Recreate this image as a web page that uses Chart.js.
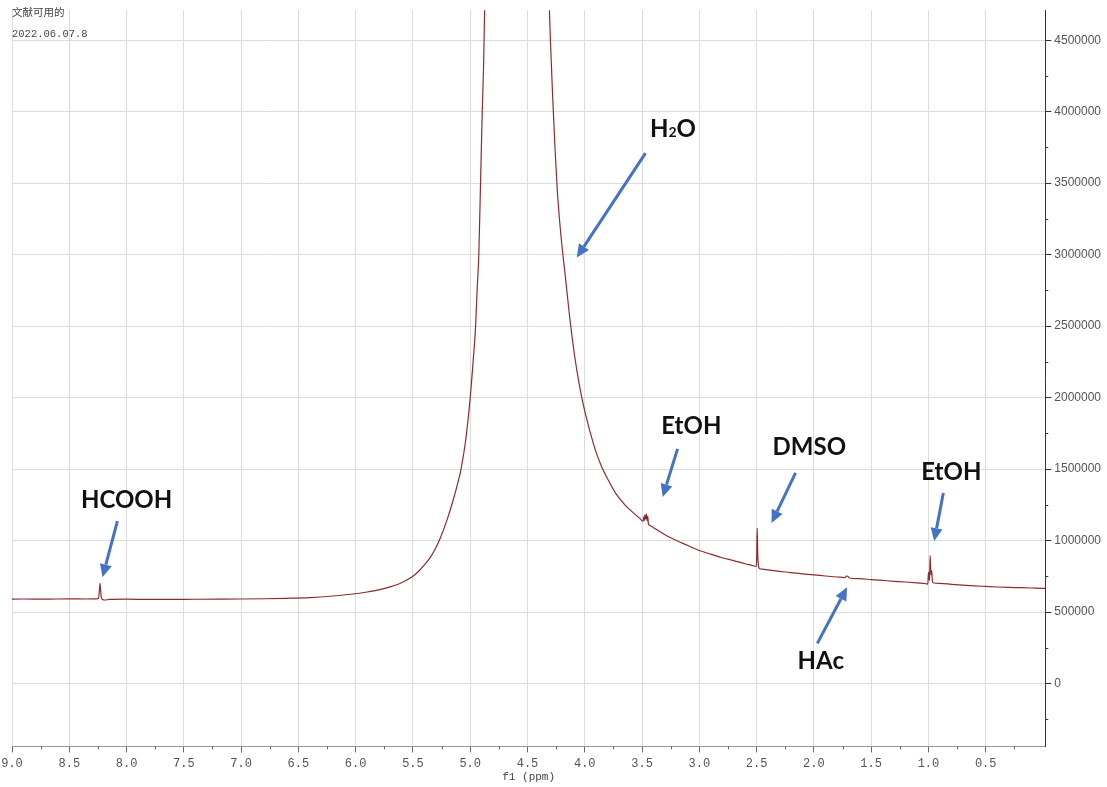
<!DOCTYPE html>
<html>
<head>
<meta charset="utf-8">
<script src="https://cdn.jsdelivr.net/npm/chart.js@4/dist/chart.umd.min.js"></script>
<style>
html, body { margin: 0; padding: 0; background: #fff; overflow: hidden; }
#wrap { position: absolute; left: 0; top: 0; width: 1107px; height: 787px; }
</style>
</head>
<body>
<div id="wrap"><canvas id="nmrChart" width="1107" height="787"></canvas></div>
<script>
// 1H NMR spectrum, chemical shift (ppm) vs intensity
const shiftPpm = [
    9.05, 8.9, 8.7, 8.5, 8.35, 8.27, 8.245, 8.238, 8.232, 8.226, 8.22, 8.21, 8.19, 8.15,
    8.0, 7.8, 7.5, 7.2, 7.0, 6.8, 6.6, 6.4, 6.2, 6.0, 5.9, 5.8, 5.7, 5.6, 5.5, 5.45,
    5.4, 5.35, 5.3, 5.27, 5.2, 5.15, 5.1, 5.08, 5.04, 5.0, 4.975, 4.953, 4.94, 4.925, 4.91,
    4.895, 4.884, 4.87, 4.8, 4.7, 4.6, 4.5, 4.4, 4.34, 4.32, 4.3, 4.28, 4.26, 4.24, 4.21,
    4.17, 4.13, 4.09, 4.05, 4.01, 3.96, 3.91, 3.86, 3.8, 3.73, 3.65, 3.57, 3.52, 3.49, 3.485, 3.48, 3.475,
    3.468, 3.462, 3.456, 3.45, 3.445, 3.44, 3.43, 3.4, 3.3, 3.2, 3.1, 3.0, 2.9, 2.8,
    2.7, 2.6, 2.52, 2.505, 2.5, 2.495, 2.49, 2.485, 2.475, 2.45, 2.4, 2.3, 2.2, 2.1,
    2.0, 1.9, 1.8, 1.73, 1.715, 1.705, 1.69, 1.6, 1.5, 1.4, 1.3, 1.2, 1.1, 1.02,
    1.005, 1.0, 0.995, 0.99, 0.985, 0.978, 0.972, 0.966, 0.96, 0.9, 0.8, 0.7, 0.6, 0.5,
    0.4, 0.3, 0.2, 0.1, 0.0, -0.03
];
const intensity = [
    590000, 591000, 590000, 592000, 591000, 592000, 596000, 640000, 700000, 650000, 600000, 588000, 584000, 588000,
    590000, 588000, 589000, 590000, 591000, 593000, 596000, 601000, 612000, 628000, 640000, 655000, 676000, 705000, 750000, 785000,
    830000, 880000, 950000, 1000000, 1150000, 1280000, 1430000, 1500000, 1700000, 2000000, 2250000, 2500000, 2750000, 3000000, 3500000,
    4000000, 4300000, 4900000, 7500000, 12000000, 16000000, 12000000, 7000000, 5600000, 5000000, 4500000, 4100000, 3750000, 3450000, 3150000,
    2850000, 2550000, 2300000, 2100000, 1940000, 1780000, 1640000, 1530000, 1430000, 1330000, 1250000, 1190000, 1155000, 1135000, 1165000, 1140000, 1180000,
    1150000, 1185000, 1140000, 1170000, 1120000, 1110000, 1105000, 1090000, 1040000, 1000000, 965000, 930000, 905000, 880000,
    860000, 838000, 822000, 818000, 860000, 1087000, 900000, 830000, 805000, 800000, 795000, 785000, 775000, 767000,
    760000, 752000, 745000, 741000, 752000, 750000, 738000, 733000, 727000, 721000, 715000, 710000, 704000, 698000,
    695000, 780000, 740000, 720000, 895000, 760000, 790000, 720000, 705000, 700000, 694000, 688000, 683000, 679000,
    675000, 672000, 670000, 668000, 666000, 665000
];

// axis ranges and tick values
const xRange = [-0.02, 9.0];
const yRange = [-440000, 4710000];
const xTickValues = [0.5, 1.0, 1.5, 2.0, 2.5, 3.0, 3.5, 4.0, 4.5, 5.0, 5.5, 6.0, 6.5, 7.0, 7.5, 8.0, 8.5, 9.0];
const yTickValues = [0, 500000, 1000000, 1500000, 2000000, 2500000, 3000000, 3500000, 4000000, 4500000];
const xMinorTicks = [0.25, 0.75, 1.25, 1.75, 2.25, 2.75, 3.25, 3.75, 4.25, 4.75, 5.25, 5.75, 6.25, 6.75, 7.25, 7.75, 8.25, 8.75];
const yMinorTicks = [-250000, 250000, 750000, 1250000, 1750000, 2250000, 2750000, 3250000, 3750000, 4250000];

// peak labels with arrows, in data coordinates
const labelText = ["HCOOH", "H2O", "EtOH", "DMSO", "EtOH", "HAc"];
const labelPpm = [8.0, 3.23, 3.07, 2.04, 0.8, 1.94];
const labelValue = [1280000, 3878000, 1802000, 1655000, 1480000, 154000];
const arrowFromPpm = [8.08, 3.47, 3.19, 2.16, 0.87, 1.97];
const arrowFromValue = [1136000, 3710000, 1641000, 1473000, 1332000, 281000];
const arrowToPpm = [8.21, 4.07, 3.32, 2.37, 0.95, 1.71];
const arrowToValue = [743000, 2980000, 1304000, 1122000, 996000, 673000];

const headerLines = ["文献可用的", "2022.06.07.8"];

const spectrum = shiftPpm.map((p, i) => ({ x: p, y: intensity[i] }));

function drawArrow(ctx, x1, y1, x2, y2) {
    const ang = Math.atan2(y2 - y1, x2 - x1);
    const headLen = 13;
    const headW = 6;
    const bx = x2 - headLen * Math.cos(ang);
    const by = y2 - headLen * Math.sin(ang);
    ctx.beginPath();
    ctx.moveTo(x1, y1);
    ctx.lineTo(bx, by);
    ctx.stroke();
    ctx.beginPath();
    ctx.moveTo(x2, y2);
    ctx.lineTo(bx + headW * Math.sin(ang), by - headW * Math.cos(ang));
    ctx.lineTo(bx - headW * Math.sin(ang), by + headW * Math.cos(ang));
    ctx.closePath();
    ctx.fill();
}

function drawLabel(ctx, text, cx, cy) {
    ctx.textBaseline = "middle";
    if (text === "H2O") {
        const big = "bold 24px Lato, 'Open Sans', sans-serif";
        const small = "bold 14px Lato, 'Open Sans', sans-serif";
        ctx.font = big;
        const wH = ctx.measureText("H").width;
        const wO = ctx.measureText("O").width;
        ctx.font = small;
        const w2 = ctx.measureText("2").width;
        let x = cx - (wH + w2 + wO) / 2;
        ctx.textAlign = "left";
        ctx.font = big;
        ctx.fillText("H", x, cy);
        x += wH;
        ctx.font = small;
        ctx.fillText("2", x, cy + 3);
        x += w2;
        ctx.font = big;
        ctx.fillText("O", x, cy);
        return;
    }
    ctx.font = "bold 24px Lato, 'Open Sans', sans-serif";
    ctx.textAlign = "center";
    ctx.fillText(text, cx, cy);
}

const extrasPlugin = {
    id: "extras",
    afterDraw(chart) {
        const ctx = chart.ctx;
        const xs = chart.scales.x;
        const ys = chart.scales.y;
        const area = chart.chartArea;
        ctx.save();

        // minor tick marks
        ctx.strokeStyle = "#666";
        ctx.lineWidth = 1;
        xMinorTicks.forEach((v) => {
            const px = Math.round(xs.getPixelForValue(v)) + 0.5;
            ctx.beginPath();
            ctx.moveTo(px, area.bottom);
            ctx.lineTo(px, area.bottom + 3);
            ctx.stroke();
        });
        ctx.strokeStyle = "#333";
        yMinorTicks.forEach((v) => {
            const py = Math.round(ys.getPixelForValue(v)) + 0.5;
            ctx.beginPath();
            ctx.moveTo(area.right, py);
            ctx.lineTo(area.right + 3, py);
            ctx.stroke();
        });

        // arrows
        ctx.strokeStyle = "#4472c4";
        ctx.fillStyle = "#4472c4";
        ctx.lineWidth = 3;
        for (let i = 0; i < labelText.length; i++) {
            drawArrow(ctx,
                xs.getPixelForValue(arrowFromPpm[i]), ys.getPixelForValue(arrowFromValue[i]),
                xs.getPixelForValue(arrowToPpm[i]), ys.getPixelForValue(arrowToValue[i]));
        }

        // peak labels
        ctx.fillStyle = "#111";
        for (let i = 0; i < labelText.length; i++) {
            drawLabel(ctx, labelText[i],
                xs.getPixelForValue(labelPpm[i]), ys.getPixelForValue(labelValue[i]));
        }

        // header text in the top-left corner
        ctx.fillStyle = "#444";
        ctx.textAlign = "left";
        ctx.textBaseline = "middle";
        ctx.font = "10.5px 'Noto Sans CJK SC', sans-serif";
        ctx.fillText(headerLines[0], area.left, 12);
        ctx.font = "10.5px 'Liberation Mono', monospace";
        ctx.fillText(headerLines[1], area.left, 34);
        ctx.restore();
    }
};

new Chart(document.getElementById("nmrChart"), {
    type: "line",
    data: {
        datasets: [{
            data: spectrum,
            borderColor: "#8b2d2f",
            borderWidth: 1.2,
            pointRadius: 0,
            cubicInterpolationMode: "monotone",
            fill: false,
        }],
    },
    options: {
        responsive: false,
        animation: false,
        devicePixelRatio: 1,
        layout: { padding: { top: 10, right: 3, left: 12, bottom: 3 } },
        plugins: {
            legend: { display: false },
            tooltip: { enabled: false },
        },
        scales: {
            x: {
                type: "linear",
                reverse: true,
                min: xRange[0],
                max: xRange[1],
                afterBuildTicks: (scale) => {
                    scale.ticks = xTickValues.map((v) => ({ value: v }));
                },
                grid: { color: "#dcdcdc", tickColor: "#666", tickLength: 6 },
                border: { color: "#999" },
                ticks: {
                    autoSkip: false,
                    maxRotation: 0,
                    padding: 4,
                    color: "#555",
                    font: { family: "'Liberation Mono', monospace", size: 12 },
                    callback: (v) => Number(v).toFixed(1),
                },
                title: {
                    display: true,
                    text: "f1 (ppm)",
                    color: "#444",
                    font: { family: "'Liberation Mono', monospace", size: 11 },
                    padding: { top: -4, bottom: 0 },
                },
            },
            y: {
                type: "linear",
                position: "right",
                min: yRange[0],
                max: yRange[1],
                afterBuildTicks: (scale) => {
                    scale.ticks = yTickValues.map((v) => ({ value: v }));
                },
                grid: { color: "#dcdcdc", tickColor: "#333", tickLength: 6 },
                border: { color: "#333" },
                ticks: {
                    autoSkip: false,
                    padding: 3,
                    color: "#555",
                    font: { family: "'Liberation Sans', Arial, sans-serif", size: 12 },
                    callback: (v) => String(v),
                },
            },
        },
    },
    plugins: [extrasPlugin],
});
</script>
</body>
</html>
